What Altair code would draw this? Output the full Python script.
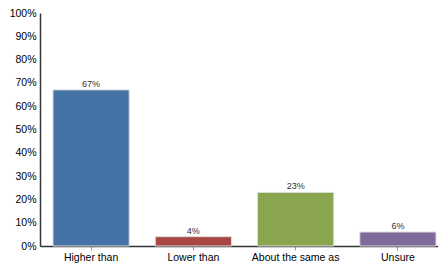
import altair as alt
import pandas as pd

categories = ["Higher than", "Lower than", "About the same as", "Unsure"]
values = [67, 4, 23, 6]
colors = ["#4572A7", "#AA4643", "#89A54E", "#80699B"]
y_ticks = [0, 10, 20, 30, 40, 50, 60, 70, 80, 90, 100]

FONT = "Liberation Sans"

df = pd.DataFrame({"cat": categories, "val": values,
                   "label": [f"{v}%" for v in values]})

x = alt.X("cat:N", sort=categories, title=None,
          scale=alt.Scale(paddingInner=0.255, paddingOuter=0.0733, align=0.867),
          axis=alt.Axis(labelAngle=0, labelFont=FONT, labelFontSize=10.5,
                        labelColor="#000000", domainColor="#333333", domainWidth=1.5,
                        tickColor="#999999", tickSize=4, labelPadding=2, grid=False))

y = alt.Y("val:Q", title=None,
          scale=alt.Scale(domain=[0, 100]),
          axis=alt.Axis(values=y_ticks, labelExpr="datum.value + '%'",
                        labelFont=FONT, labelFontSize=10.5, labelColor="#000000",
                        domainColor="#333333", domainWidth=1.5, ticks=False,
                        labelOverlap=False, labelPadding=4, grid=False,
                        minExtent=32, maxExtent=32))

base = alt.Chart(df).encode(x=x, y=y)

bars = base.mark_bar(stroke="#dddddd", strokeWidth=1).encode(
    color=alt.Color("cat:N", sort=categories,
                    scale=alt.Scale(domain=categories, range=colors), legend=None),
)

text = base.mark_text(dy=-6, font=FONT, fontSize=9,
                      color="#333333").encode(text="label:N")

chart = (bars + text).properties(
    width=398, height=233, padding={"left": 0, "top": 0, "right": 0, "bottom": 0}
).configure_view(stroke=None)

chart.save("out.html", embed_options={"renderer": "svg", "actions": False})
